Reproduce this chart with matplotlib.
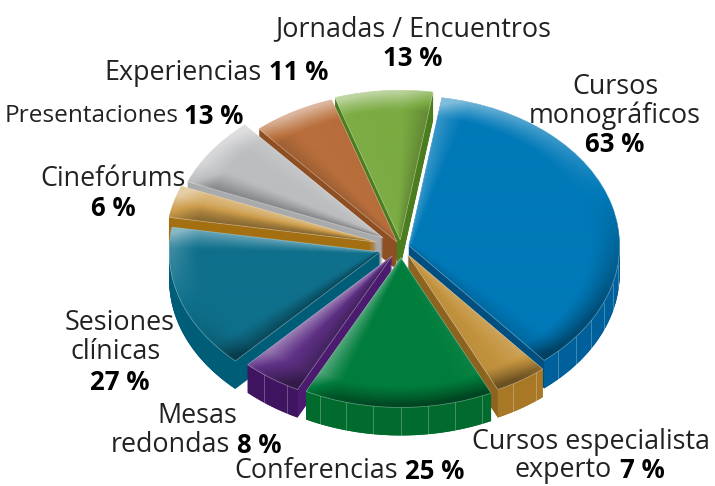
import matplotlib
matplotlib.use("Agg")
import matplotlib.pyplot as plt
from matplotlib.colors import to_rgb
import numpy as np

plt.rcParams['font.family'] = ['Open Sans', 'DejaVu Sans']

names = ["Cursos monográficos", "Cursos especialista experto", "Conferencias",
         "Mesas redondas", "Sesiones clínicas", "Cinefórums", "Presentaciones",
         "Experiencias", "Jornadas / Encuentros"]
values = [63, 7, 25, 8, 27, 6, 13, 11, 13]

top_colors = ["#0079b8", "#c4943f", "#007d3c", "#5f3186", "#0f708c",
              "#cc9c4a", "#bcbdbf", "#b96f3c", "#7bab42"]
wall_colors = ["#00609b", "#a87826", "#006b2d", "#3f1460", "#005d78",
               "#a36f10", "#a9aaac", "#8e4f22", "#4b7c1e"]
cut_colors = ["#004f80", "#8c6420", "#006b2d", "#4b1b6f", "#005d78",
              "#a36f10", "#a9aaac", "#8e4f22", "#4b7c1e"]
explode = [8, 12, 15, 15, 22, 25, 22, 8, 10]

W, H = 715, 486
cx, cy = 401, 247
squash = 0.71
radius = 211
depth = 28
start = 81

fig = plt.figure(figsize=(W / 100, H / 100), dpi=100)
ax = fig.add_axes([0, 0, 1, 1])

ylo = (cy - H) / squash
yhi = cy / squash


def draw_pie(yshift, colors, **props):
    wedges, _ = ax.pie(values, explode=explode, colors=colors, radius=radius,
                       center=(cx, yshift), startangle=start, counterclock=False,
                       wedgeprops=props)
    return wedges


def shade_image(w, base):
    # bevel along the rim and the two straight edges, lit from the upper left
    xs = np.linspace(0, W, W * 2)
    ys = np.linspace(ylo, yhi, H * 2)
    X, Y = np.meshgrid(xs - w.center[0], ys - w.center[1])
    r = np.hypot(X, Y) + 1e-6
    th = np.degrees(np.arctan2(Y, X))
    lx, ly = -0.35, 0.94

    d_rim = w.r - r
    rim = np.clip(1.15 - d_rim / 26, 0, 1) ** 1.2
    shade = rim * (X / r * lx + Y / r * ly)

    wid = 3 + r * 0.12
    d1 = r * np.abs(np.sin(np.radians(th - w.theta1)))
    d2 = r * np.abs(np.sin(np.radians(th - w.theta2)))
    n1 = np.radians(w.theta1 - 90)
    n2 = np.radians(w.theta2 + 90)
    shade = shade + np.clip(1.1 - d1 / wid, 0, 1) ** 1.2 * (np.cos(n1) * lx + np.sin(n1) * ly) * 0.8
    shade = shade + np.clip(1.1 - d2 / wid, 0, 1) ** 1.2 * (np.cos(n2) * lx + np.sin(n2) * ly) * 0.8
    shade = np.clip(shade, -1, 1)

    img = np.zeros(X.shape + (3,))
    c = np.array(to_rgb(base))
    for i in range(3):
        img[..., i] = np.where(shade > 0, c[i] + (1 - c[i]) * 0.5 * shade, c[i] * (1 + 0.45 * shade))
    return img


# back slices get painted first
mids = start - (np.cumsum(values) - np.array(values) / 2) / sum(values) * 360
order = np.argsort(np.argsort(-np.sin(np.radians(mids))))

for k in range(depth, 0, -1):
    for w, rank in zip(draw_pie(-k / squash, cut_colors, linewidth=0), order):
        w.set_zorder(10 + rank * 10 - k * 0.01)

tops = draw_pie(0, top_colors, linewidth=0)
for i, w in enumerate(tops):
    z = 10 + order[i] * 10
    w.set_zorder(z + 2)
    im = ax.imshow(shade_image(w, top_colors[i]), extent=(0, W, ylo, yhi), origin='lower',
                   aspect='auto', zorder=z + 3, interpolation='bilinear')
    im.set_clip_path(w)

    # outer wall under the rim
    a = np.linspace(w.theta1, w.theta2, 80)
    a = a[np.sin(np.radians(a)) < 0]
    if len(a) > 1:
        px = w.center[0] + w.r * np.cos(np.radians(a))
        py = w.center[1] + w.r * np.sin(np.radians(a))
        ax.fill(np.r_[px, px[::-1]], np.r_[py, py[::-1] - depth / squash],
                color=wall_colors[i], lw=0, zorder=z + 0.5)

    # thin lines on the wall
    a = np.ceil(w.theta1 / 7.5) * 7.5
    while a < w.theta2 and i != 4:
        s = np.sin(np.radians(a))
        if s < -0.1:
            px = w.center[0] + w.r * np.cos(np.radians(a))
            py = w.center[1] + w.r * s
            ax.plot([px, px], [py, py - depth / squash], color="white", alpha=0.3,
                    lw=0.6, zorder=z + 1)
        a += 7.5

for w, rank in zip(draw_pie(0, top_colors, fill=False, edgecolor=(1, 1, 1, 0.4), linewidth=0.5), order):
    w.set_zorder(10 + rank * 10 + 4)

ax.set_aspect('auto')
ax.set_xlim(0, W)
ax.set_ylim(ylo, yhi)
ax.axis('off')

fs = 19.4
fb = 18.5


def lab(x, y, s, ha='center', weight='normal', size=None):
    if size is None:
        size = fb if weight == 'bold' else fs
    fig.text(x / W, 1 - (y + 1) / H, s, ha=ha, va='center', fontsize=size, fontweight=weight,
             color="#222222" if weight == 'normal' else "black")


def pct(i):
    return str(values[i]) + " %"


lab(413, 28, names[8])
lab(413, 57, pct(8), weight='bold')
lab(615, 86, "Cursos")
lab(615, 115, "monográficos")
lab(615, 144, pct(0), weight='bold')
lab(262, 72, names[7], ha='right')
lab(269, 72, pct(7), ha='left', weight='bold')
lab(179, 115, names[6], ha='right', size=17.6)
lab(184, 115, pct(6), ha='left', weight='bold')
lab(113, 178, names[5])
lab(113, 208, pct(5), weight='bold')
lab(120, 322, "Sesiones")
lab(116, 351, "clínicas")
lab(120, 381, pct(4), weight='bold')
lab(197, 415, "Mesas")
lab(230, 444, "redondas", ha='right')
lab(237, 444, pct(3), ha='left', weight='bold')
lab(398, 470, names[2], ha='right')
lab(405, 470, pct(2), ha='left', weight='bold')
lab(591, 441, "Cursos especialista")
lab(612, 469, "experto", ha='right')
lab(620, 469, pct(1), ha='left', weight='bold')

fig.savefig("out.png", dpi=100)
